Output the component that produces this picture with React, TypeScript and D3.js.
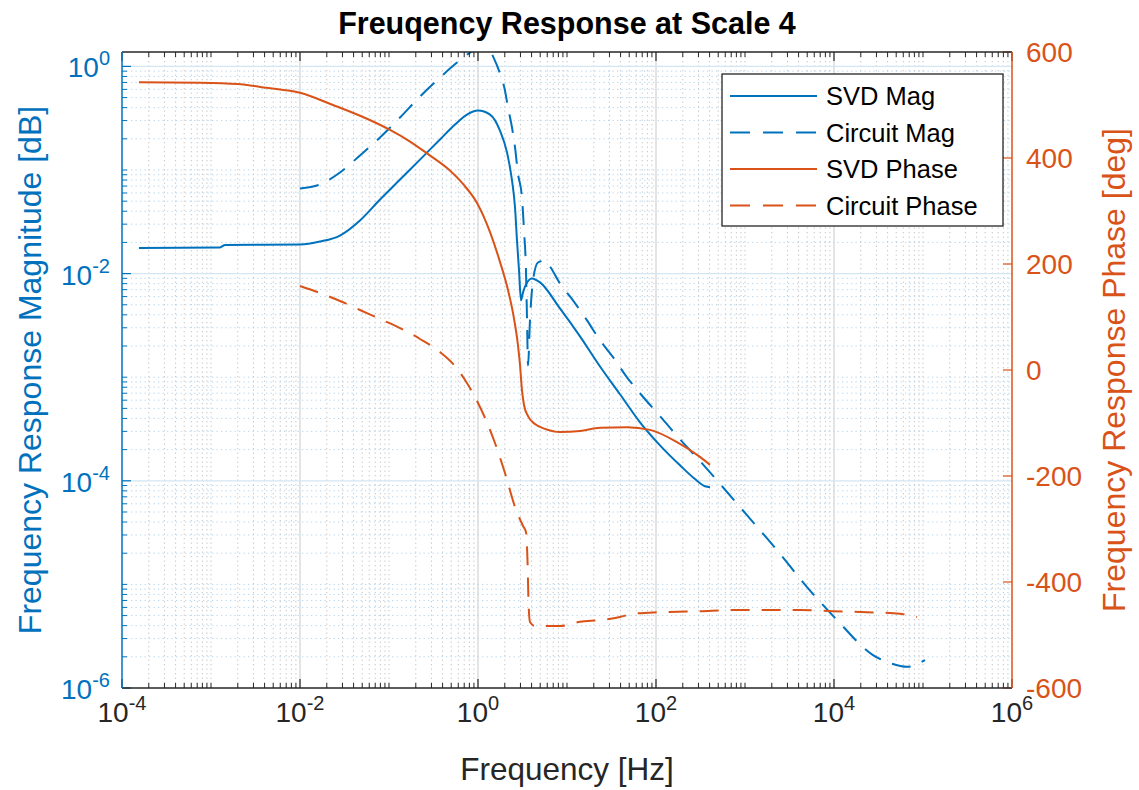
import React from "react";
import * as d3 from "d3";

// ---------- data ----------
// SVD magnitude
const svdMagFreq = [1.55e-4, 1.26e-3, 1.44e-3, 0.01, 0.0168, 0.0281, 0.0472, 0.0793, 0.133, 0.223, 0.374, 0.552, 0.752, 1.0, 1.365, 1.766, 2.118, 2.41, 2.606, 2.742, 2.891, 3.041, 3.206, 3.459, 4.046, 4.977, 8.337, 14.0, 23.5, 39.4, 66.1, 110.9, 186.2, 274.2, 355.6, 404.6];
const svdMagVal = [0.0177, 0.0179, 0.0189, 0.0191, 0.0204, 0.0233, 0.0326, 0.0519, 0.0809, 0.126, 0.197, 0.275, 0.343, 0.375, 0.343, 0.24, 0.148, 0.0793, 0.0435, 0.0209, 0.0107, 0.00552, 0.00659, 0.00787, 0.00899, 0.00822, 0.00461, 0.00248, 0.00127, 6.84e-4, 3.67e-4, 2.2e-4, 1.41e-4, 1.04e-4, 8.87e-5, 8.67e-5];

// Circuit magnitude
const circMagFreq = [0.01, 0.0168, 0.0281, 0.0472, 0.0793, 0.133, 0.223, 0.374, 0.581, 0.813, 1.052, 1.294, 1.514, 1.766, 2.009, 2.173, 2.41, 2.606, 2.812, 3.119, 3.289, 3.459, 3.556, 3.648, 3.837, 4.15, 4.721, 5.662, 6.442, 8.337, 11.67, 16.79, 23.5, 32.9, 47.2, 66.1, 110.9, 186.2, 311.9, 484, 1052, 2291, 4977, 10814, 27416, 42560, 66070, 105200];
const circMagVal = [0.0664, 0.0725, 0.0946, 0.138, 0.206, 0.321, 0.512, 0.78, 1.089, 1.358, 1.517, 1.486, 1.189, 0.853, 0.585, 0.401, 0.257, 0.165, 0.0925, 0.0543, 0.0261, 0.0107, 0.00354, 0.0013, 0.00354, 0.00859, 0.0128, 0.0134, 0.0117, 0.00804, 0.00552, 0.00354, 0.00227, 0.00156, 9.98e-4, 7.0e-4, 4.2e-4, 2.52e-4, 1.55e-4, 1.01e-4, 4.66e-5, 2.14e-5, 9.42e-6, 4.53e-6, 2.08e-6, 1.74e-6, 1.6e-6, 1.86e-6];

// SVD phase (deg)
const svdPhaseFreq = [1.55e-4, 7.52e-4, 1.98e-3, 4.2e-3, 0.01, 0.0235, 0.0566, 0.1026, 0.169, 0.282, 0.449, 0.678, 0.975, 1.365, 1.766, 2.173, 2.532, 2.812, 2.965, 3.119, 3.289, 3.648, 4.365, 5.662, 8.337, 14.0, 23.5, 47.2, 85.7, 172.2, 311.9, 404.6];
const svdPhaseVal = [543, 542, 539.5, 532.5, 523, 500, 474, 453, 432, 406, 381, 351, 315, 260, 204, 151, 98, 47, 9.4, -38, -66, -87, -102, -111, -117, -115, -109, -108, -113, -136, -164, -179];

// Circuit phase (deg)
const circPhaseFreq = [0.01, 0.0168, 0.0281, 0.0472, 0.0793, 0.133, 0.223, 0.374, 0.552, 0.715, 0.925, 1.2, 1.552, 2.009, 2.606, 3.206, 3.459, 3.597, 3.69, 3.837, 4.365, 8.337, 14.0, 23.5, 39.4, 55.2, 110.9, 311.9, 733, 4150, 9750, 23500, 55200, 85700];
const circPhaseVal = [158.5, 145.3, 130.2, 113.2, 96.2, 79.2, 58.5, 34, 7.5, -18.9, -50.9, -90.6, -137.7, -194.3, -258.5, -294.3, -305.7, -358.5, -434, -475.5, -483, -483, -475, -472, -466, -460, -457, -455, -453, -453, -455, -457, -460, -466];

const xMajorExp = [-4, -2, 0, 2, 4, 6];
const yMajorExp = [-6, -4, -2, 0];
const phaseTicks = [-600, -400, -200, 0, 200, 400, 600];
const legendLabels = ["SVD Mag", "Circuit Mag", "SVD Phase", "Circuit Phase"];

// ---------- layout ----------
const W = 1139;
const H = 790;
const L = 122, R = 1012, T = 52, B = 688;
const BLUE = "#0072BD";
const ORANGE = "#D95319";
const AX = "#262626";
const FONT = "'Liberation Sans', Arial, Helvetica, sans-serif";

const x = d3.scaleLog().domain([1e-4, 1e6]).range([L, R]);
const yMag = d3.scaleLog().domain([1e-6, Math.pow(10, 0.139)]).range([B, T]);
const yPh = d3.scaleLinear().domain([-600, 600]).range([B, T]);

const zip = (a: number[], b: number[]) => a.map((v, i) => [v, b[i]] as [number, number]);

const magLine = d3
  .line<[number, number]>()
  .x((d) => x(d[0]))
  .y((d) => yMag(d[1]))
  .curve(d3.curveMonotoneX);
const phLine = d3
  .line<[number, number]>()
  .x((d) => x(d[0]))
  .y((d) => yPh(d[1]))
  .curve(d3.curveMonotoneX);

// minor tick positions
const xMinor: number[] = [];
for (let k = -4; k < 6; k++) {
  for (let m = 1; m <= 9; m++) {
    const v = m * Math.pow(10, k);
    if (m === 1 && k % 2 === 0) continue;
    xMinor.push(v);
  }
}
const yMinor: number[] = [];
for (let k = -6; k <= 0; k++) {
  for (let m = 1; m <= 9; m++) {
    const v = m * Math.pow(10, k);
    if (m === 1 && k % 2 === 0) continue;
    if (v > yMag.domain()[1]) continue;
    yMinor.push(v);
  }
}

export default function App() {
  const series = [
    { d: magLine(zip(svdMagFreq, svdMagVal)), c: BLUE, dash: undefined },
    { d: magLine(zip(circMagFreq, circMagVal)), c: BLUE, dash: "19,12" },
    { d: phLine(zip(svdPhaseFreq, svdPhaseVal)), c: ORANGE, dash: undefined },
    { d: phLine(zip(circPhaseFreq, circPhaseVal)), c: ORANGE, dash: "19,12" },
  ];
  const legendColors = [BLUE, BLUE, ORANGE, ORANGE];
  const legendDash = [undefined, "20,13", undefined, "20,13"];

  return (
    <div style={{ position: "absolute", left: 0, top: 0 }}>
      <svg width={W} height={H} style={{ display: "block", background: "#fff" }} fontFamily={FONT}>
        <rect x={0} y={0} width={W} height={H} fill="#fff" />
        {/* minor grid */}
        {xMinor.map((v, i) => (
          <line key={"xm" + i} x1={x(v)} x2={x(v)} y1={T} y2={B} stroke="#c4c4c4" strokeWidth={1} strokeDasharray="1.3,3.2" />
        ))}
        {yMinor.map((v, i) => (
          <line key={"ym" + i} x1={L} x2={R} y1={yMag(v)} y2={yMag(v)} stroke="#b5d6ee" strokeWidth={1} strokeDasharray="1.3,3.2" />
        ))}
        {/* major grid */}
        {xMajorExp.slice(1, -1).map((e) => (
          <line key={"xg" + e} x1={x(Math.pow(10, e))} x2={x(Math.pow(10, e))} y1={T} y2={B} stroke="#d6d6d6" strokeWidth={1.3} />
        ))}
        {yMajorExp.slice(1).map((e) => (
          <line key={"yg" + e} x1={L} x2={R} y1={yMag(Math.pow(10, e))} y2={yMag(Math.pow(10, e))} stroke="#d3e6f4" strokeWidth={1.3} />
        ))}

        {/* curves */}
        <defs>
          <clipPath id="plotClip">
            <rect x={L} y={T} width={R - L} height={B - T} />
          </clipPath>
        </defs>
        <g clipPath="url(#plotClip)">
          {series.map((s, i) => (
            <path key={i} d={s.d || ""} fill="none" stroke={s.c} strokeWidth={2} strokeDasharray={s.dash} strokeLinejoin="round" />
          ))}
        </g>

        {/* x axis ticks (bottom & top) */}
        {xMinor.map((v, i) => (
          <g key={"xt" + i} stroke={AX} strokeWidth={1}>
            <line x1={x(v)} x2={x(v)} y1={B} y2={B - 5} />
            <line x1={x(v)} x2={x(v)} y1={T} y2={T + 5} />
          </g>
        ))}
        {xMajorExp.map((e) => (
          <g key={"xM" + e} stroke={AX} strokeWidth={1.2}>
            <line x1={x(Math.pow(10, e))} x2={x(Math.pow(10, e))} y1={B} y2={B - 9} />
            <line x1={x(Math.pow(10, e))} x2={x(Math.pow(10, e))} y1={T} y2={T + 9} />
          </g>
        ))}
        {/* left axis ticks */}
        {yMinor.map((v, i) => (
          <line key={"yt" + i} x1={L} x2={L + 5} y1={yMag(v)} y2={yMag(v)} stroke={BLUE} strokeWidth={1} />
        ))}
        {yMajorExp.map((e) => (
          <line key={"yM" + e} x1={L} x2={L + 9} y1={yMag(Math.pow(10, e))} y2={yMag(Math.pow(10, e))} stroke={BLUE} strokeWidth={1.2} />
        ))}
        {/* right axis ticks */}
        {phaseTicks.map((p) => (
          <line key={"pt" + p} x1={R} x2={R - 9} y1={yPh(p)} y2={yPh(p)} stroke={ORANGE} strokeWidth={1.2} />
        ))}

        {/* axis lines */}
        <line x1={L} x2={R} y1={B} y2={B} stroke={AX} strokeWidth={1.3} />
        <line x1={L} x2={R} y1={T} y2={T} stroke={AX} strokeWidth={1.3} />
        <line x1={L} x2={L} y1={T} y2={B} stroke={BLUE} strokeWidth={1.5} />
        <line x1={R} x2={R} y1={T} y2={B} stroke={ORANGE} strokeWidth={1.5} />

        {/* x tick labels */}
        {xMajorExp.map((e) => (
          <text key={"xl" + e} x={x(Math.pow(10, e))} y={722} textAnchor="middle" fontSize={28} fill={AX}>
            10
            <tspan dy={-12} fontSize={20}>{String(e)}</tspan>
          </text>
        ))}
        {/* left tick labels */}
        {yMajorExp.map((e) => (
          <text key={"yl" + e} x={110} y={yMag(Math.pow(10, e)) + 11} textAnchor="end" fontSize={28} fill={BLUE}>
            10
            <tspan dy={-12} fontSize={20}>{String(e)}</tspan>
          </text>
        ))}
        {/* right tick labels */}
        {phaseTicks.map((p) => (
          <text key={"pl" + p} x={1026} y={yPh(p) + 10} textAnchor="start" fontSize={28} fill={ORANGE}>
            {String(p)}
          </text>
        ))}

        {/* labels */}
        <text x={(L + R) / 2} y={34} textAnchor="middle" fontSize={30.5} fontWeight="bold" fill="#000">
          Freuqency Response at Scale 4
        </text>
        <text x={(L + R) / 2} y={780} textAnchor="middle" fontSize={31.5} fill={AX}>
          Frequency [Hz]
        </text>
        <text transform={`translate(41,${(T + B) / 2}) rotate(-90)`} textAnchor="middle" fontSize={32} fill={BLUE}>
          Frequency Response Magnitude [dB]
        </text>
        <text transform={`translate(1125,${(T + B) / 2}) rotate(-90)`} textAnchor="middle" fontSize={32} fill={ORANGE}>
          Frequency Response Phase [deg]
        </text>

        {/* legend */}
        <rect x={722} y={74} width={281} height={152} fill="#fff" stroke={AX} strokeWidth={1.3} />
        {legendLabels.map((lab, i) => {
          const cy = 96 + i * 36.5;
          return (
            <g key={lab}>
              <line x1={730} x2={817} y1={cy} y2={cy} stroke={legendColors[i]} strokeWidth={2} strokeDasharray={legendDash[i]} />
              <text x={826} y={cy + 9} fontSize={25.5} fill="#000">
                {lab}
              </text>
            </g>
          );
        })}
      </svg>
    </div>
  );
}
